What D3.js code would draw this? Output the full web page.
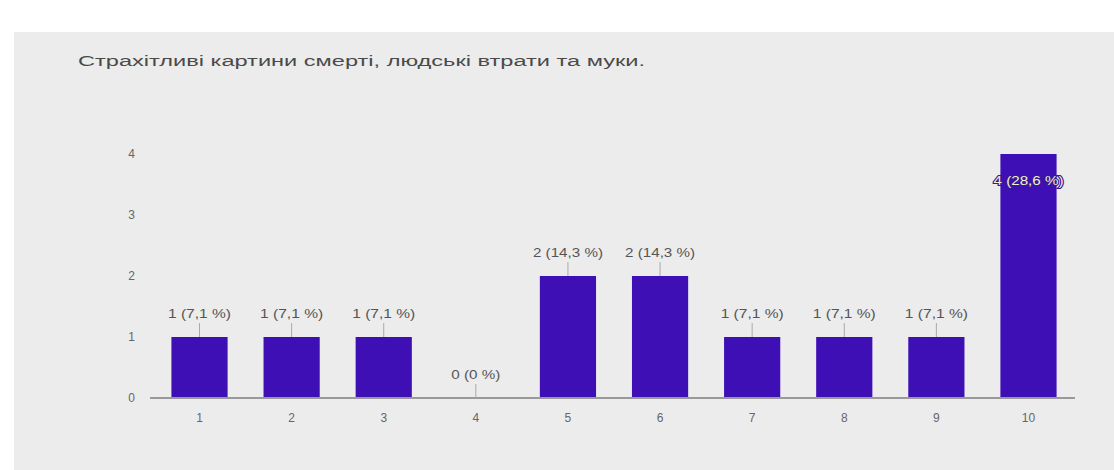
<!DOCTYPE html>
<html><head><meta charset="utf-8">
<script src="https://cdn.jsdelivr.net/npm/d3@7"></script>
<style>body{margin:0;background:#fff;}svg{display:block;font-family:"Liberation Sans",Arial,sans-serif;}</style>
</head><body><svg id="c" width="1114" height="470"></svg>
<script>
const title = "Страхітливі картини смерті, людські втрати та муки.";
const categories = ["1","2","3","4","5","6","7","8","9","10"];
const counts = [1,1,1,0,2,2,1,1,1,4];
const labels = ["1 (7,1 %)","1 (7,1 %)","1 (7,1 %)","0 (0 %)","2 (14,3 %)","2 (14,3 %)","1 (7,1 %)","1 (7,1 %)","1 (7,1 %)","4 (28,6 %)"];
const yTicks = [0,1,2,3,4];

const svg = d3.select("#c");
svg.append("rect").attr("x",14).attr("y",32).attr("width",1100).attr("height",438).attr("fill","#ececec");
svg.append("text").attr("x",78).attr("y",66).attr("font-size",14).attr("fill","#4a4a4a")
  .attr("textLength",567).attr("lengthAdjust","spacingAndGlyphs").text(title);

const x = d3.scaleBand().domain(categories).range([153,1075]).paddingInner(0.39).paddingOuter(0.2);
const y = d3.scaleLinear().domain([0,4]).range([398,154]);

const gy = svg.append("g").attr("transform","translate(138,0)")
  .call(d3.axisLeft(y).tickValues(yTicks).tickSize(0).tickFormat(d3.format("d")));
gy.select(".domain").remove();
gy.selectAll("text").attr("font-size",12).attr("fill","#666").attr("font-family","Liberation Sans, Arial");

svg.selectAll("rect.bar").data(counts).join("rect").attr("class","bar")
  .attr("x",(d,i)=>x(categories[i])).attr("width",x.bandwidth())
  .attr("y",d=>y(d)).attr("height",d=>y(0)-y(d)).attr("fill","#3e0fb5");

const gx = svg.append("g").attr("transform","translate(0,398)")
  .call(d3.axisBottom(x).tickSize(0).tickPadding(15));
gx.select(".domain").attr("stroke","#999").attr("stroke-width",2).attr("d","M150,0H1075");
gx.selectAll("text").attr("font-size",12).attr("fill","#666").attr("font-family","Liberation Sans, Arial");

const maxv = d3.max(counts);
counts.forEach((d,i)=>{
  const cx = x(categories[i]) + x.bandwidth()/2;
  const tl = labels[i].length * 7.0;
  if (d === maxv) {
    svg.append("text").attr("x",cx - tl/2).attr("y",y(d)+31)
      .attr("textLength",tl).attr("lengthAdjust","spacingAndGlyphs")
      .attr("font-size",12).attr("fill","#f3ecd6")
      .attr("stroke","#3a1a90").attr("stroke-width",2).attr("paint-order","stroke").text(labels[i]);
  } else {
    svg.append("line").attr("x1",cx).attr("x2",cx).attr("y1",y(d)-14).attr("y2",y(d))
      .attr("stroke","#aaa").attr("stroke-width",1);
    svg.append("text").attr("x",cx - tl/2).attr("y",y(d)-19)
      .attr("textLength",tl).attr("lengthAdjust","spacingAndGlyphs")
      .attr("font-size",12).attr("fill","#555").text(labels[i]);
  }
});
</script></body></html>
